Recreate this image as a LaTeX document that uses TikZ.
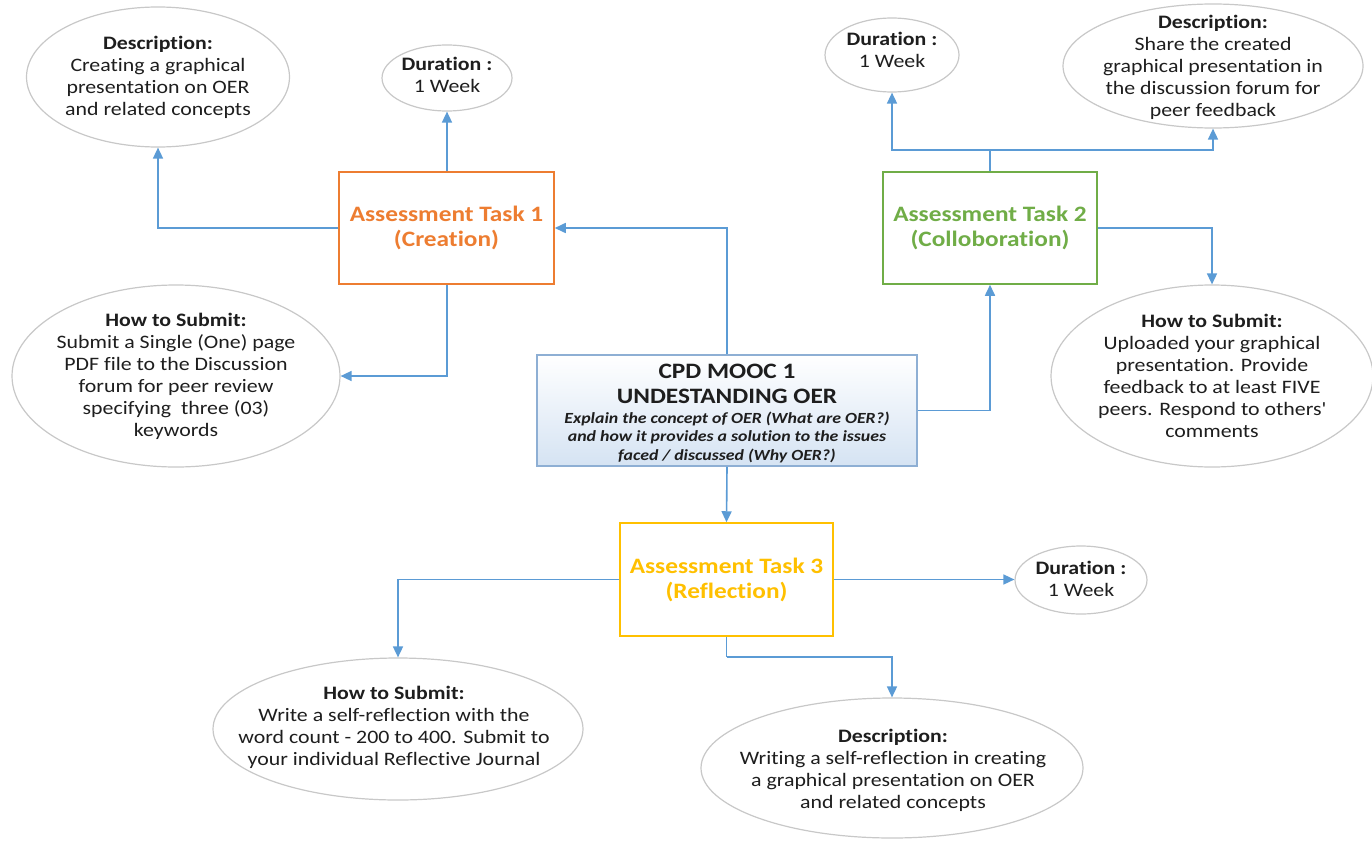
\documentclass[tikz,border=0pt]{standalone}
\usepackage{fontspec}
\setmainfont{Carlito}[FakeStretch=1.15, Ligatures={NoCommon}]
\usetikzlibrary{arrows.meta,shapes.geometric}
\definecolor{linkc}{HTML}{5B9BD5}
\definecolor{ovalc}{HTML}{C8C8C8}
\definecolor{textc}{HTML}{1E1E1E}
\definecolor{orangec}{HTML}{ED7D31}
\definecolor{greenc}{HTML}{70AD47}
\definecolor{goldc}{HTML}{FFC000}
\definecolor{cpdborder}{HTML}{8EAFD4}
\definecolor{cpdfill}{HTML}{D5E3F3}
\tikzset{
  conn/.style={draw=linkc, line width=1.6pt, -{Triangle[length=11pt,width=10pt]}},
  plainconn/.style={draw=linkc, line width=1.6pt},
  oval/.style={ellipse, draw=ovalc, line width=1.2pt, fill=white, inner sep=0pt},
  txt/.style={align=center, font=\fontsize{19}{22}\selectfont, text=textc, inner sep=0pt},
  taskbox/.style={rectangle, line width=1.5pt, fill=white, align=center,
    font=\fontsize{22}{25}\selectfont\bfseries, inner sep=0pt},
}
\begin{document}
\begin{tikzpicture}[x=1pt,y=-1pt]
\useasboundingbox (0,0) rectangle (1372,843);

% central course box
\node[rectangle, draw=cpdborder, line width=1.5pt, top color=white, bottom color=cpdfill,
      minimum width=380pt, minimum height=111pt, inner sep=0pt] (cpd) at (727,410.5) {};
\node[txt, font=\fontsize{22}{25}\selectfont\bfseries] (cpdh) at (727,383.5)
  {CPD MOOC 1\\UNDESTANDING OER};
\node[txt, font=\fontsize{15.5}{18.5}\selectfont\bfseries\itshape] (cpdb) at (727,437)
  {Explain the concept of OER (What are OER?)\\and how it provides a solution to the issues\\faced / discussed (Why OER?)};

% assessment tasks
\node[taskbox, draw=orangec, text=orangec, minimum width=215pt, minimum height=112pt] (t1) at (446.5,228)
  {Assessment Task 1\\(Creation)};
\node[taskbox, draw=greenc, text=greenc, minimum width=214pt, minimum height=112pt] (t2) at (990,228)
  {Assessment Task 2\\(Colloboration)};
\node[taskbox, draw=goldc, text=goldc, minimum width=213pt, minimum height=113pt] (t3) at (726.5,579.5)
  {Assessment Task 3\\(Reflection)};

% task 1 ovals
\node[oval, minimum width=263pt, minimum height=140pt] (d1) at (158,77) {};
\node[txt] (d1t) at (158,77.5)
  {\textbf{Description:}\\Creating a graphical\\presentation on OER\\and related concepts};
\node[oval, minimum width=130pt, minimum height=66pt] (dur1) at (447,78) {};
\node[txt] (dur1t) at (447,75) {\textbf{Duration :}\\1 Week};
\node[oval, minimum width=328pt, minimum height=182pt] (hts1) at (176,376) {};
\node[txt] (hts1t) at (176,376)
  {\textbf{How to Submit:}\\Submit a Single (One) page\\PDF file to the Discussion\\forum for peer review\\specifying\ \ three (03)\\keywords};

% task 2 ovals
\node[oval, minimum width=134pt, minimum height=74pt] (dur2) at (892,55) {};
\node[txt] (dur2t) at (892,50) {\textbf{Duration :}\\1 Week};
\node[oval, minimum width=300pt, minimum height=124pt] (d2) at (1213,66) {};
\node[txt] (d2t) at (1213,67)
  {\textbf{Description:}\\Share the created\\graphical presentation in\\the discussion forum for\\peer feedback};
\node[oval, minimum width=322pt, minimum height=182pt] (hts2) at (1212,376) {};
\node[txt] (hts2t) at (1212,376)
  {\textbf{How to Submit:}\\Uploaded your graphical\\presentation. Provide\\feedback to at least FIVE\\peers. Respond to others\textquotesingle\\comments};

% task 3 ovals
\node[oval, minimum width=132pt, minimum height=68pt] (dur3) at (1081,580) {};
\node[txt] (dur3t) at (1081,579) {\textbf{Duration :}\\1 Week};
\node[oval, minimum width=370pt, minimum height=142pt] (hts3) at (398,729) {};
\node[txt] (hts3t) at (394,727)
  {\textbf{How to Submit:}\\Write a self-reflection with the\\word count - 200 to 400. Submit to\\your individual Reflective Journal};
\node[oval, minimum width=382pt, minimum height=140pt] (d3) at (892,768) {};
\node[txt] (d3t) at (893,770)
  {\textbf{Description:}\\Writing a self-reflection in creating\\a graphical presentation on OER\\and related concepts};

% connectors from the course box
\draw[conn] (cpd.north) |- (t1.east);
\draw[conn] (cpd.east) -| (t2.south);
\draw[conn] (cpd.south) -- (t3.north);

% task 1 connectors
\draw[conn] (t1.north -| dur1.south) -- (dur1.south);
\draw[conn] (t1.west) -| (d1.south);
\draw[conn] (t1.south -| dur1.south) |- (hts1.east);

% task 2 connectors
\draw[plainconn] (t2.north) -- (t2.north |- 0,150) coordinate (j2);
\draw[conn] (j2) -| (dur2.south);
\draw[conn] (j2) -| (d2.south);
\draw[conn] (t2.east) -| (hts2.north);

% task 3 connectors
\draw[conn] (t3.west) -| (hts3.north);
\draw[conn] (t3.east) -- (t3.east -| dur3.west);
\draw[plainconn] (t3.south) -- (t3.south |- 0,657) coordinate (j3);
\draw[conn] (j3) -| (d3.north);
\end{tikzpicture}
\end{document}
